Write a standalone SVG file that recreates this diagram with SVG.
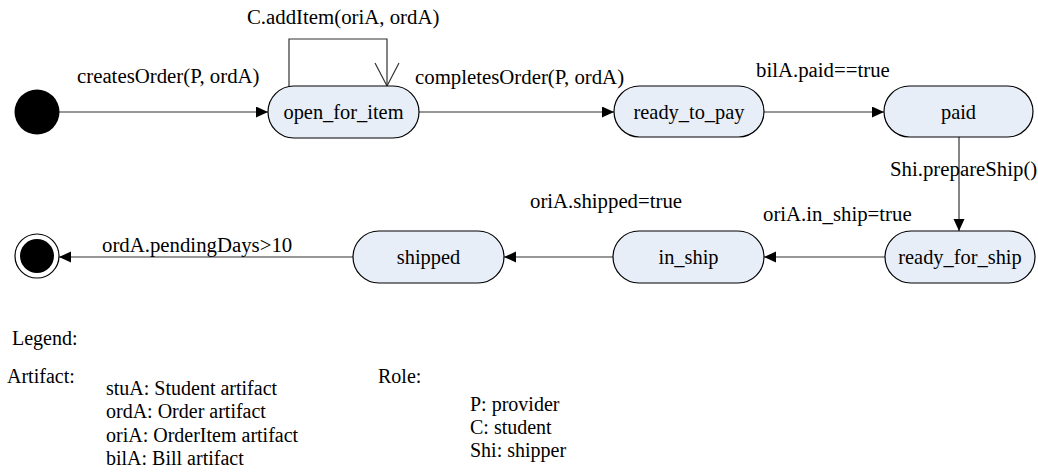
<svg xmlns="http://www.w3.org/2000/svg" width="1038" height="473" viewBox="0 0 1038 473">
<style>
text{font-family:'Liberation Serif','Times New Roman',Times,serif;font-size:20px;fill:#000}
.el{font-size:20.8px}
.st{fill:#e8eef8;stroke:#000;stroke-width:1.2}
.nt{text-anchor:middle;font-size:20.4px}
.ln{fill:none;stroke:#333;stroke-width:1.2}
</style>
<defs>
<marker id="ah" markerUnits="userSpaceOnUse" markerWidth="13" markerHeight="12" refX="12" refY="5.5" orient="auto">
<path d="M0,0 L12,5.5 L0,11 z" fill="#000"/>
</marker>
</defs>
<rect width="1038" height="473" fill="#fff"/>
<g id="connectors">
<path class="ln" d="M59 112 H268" marker-end="url(#ah)"/>
<path class="ln" d="M289 86 V39 H387 V86"/>
<path class="ln" d="M375 63 L387 86 L399 63"/>
<path class="ln" d="M419 112 H614" marker-end="url(#ah)"/>
<path class="ln" d="M764 112 H884" marker-end="url(#ah)"/>
<path class="ln" d="M959 137 V231" marker-end="url(#ah)"/>
<path class="ln" d="M885 257 H764" marker-end="url(#ah)"/>
<path class="ln" d="M613 257 H504" marker-end="url(#ah)"/>
<path class="ln" d="M353 257 H59" marker-end="url(#ah)"/>
<text class="el" x="77" y="83">createsOrder(P, ordA)</text>
<text class="el" x="247" y="24">C.addItem(oriA, ordA)</text>
<text class="el" x="415" y="84">completesOrder(P, ordA)</text>
<text class="el" x="756" y="77">bilA.paid==true</text>
<text class="el" x="890" y="176">Shi.prepareShip()</text>
<text class="el" x="530" y="208">oriA.shipped=true</text>
<text class="el" x="763" y="221">oriA.in_ship=true</text>
<text class="el" x="102" y="252">ordA.pendingDays&gt;10</text>
</g>
<g id="initial"><circle cx="37" cy="112" r="22.5" fill="#000"/></g>
<g id="open_for_item"><rect class="st" x="268" y="86" width="151" height="52" rx="26"/><text class="nt" x="343.5" y="119">open_for_item</text></g>
<g id="ready_to_pay"><rect class="st" x="614" y="86" width="150" height="51" rx="25.5"/><text class="nt" x="689" y="119">ready_to_pay</text></g>
<g id="paid"><rect class="st" x="884" y="86" width="149" height="51" rx="25.5"/><text class="nt" x="958.5" y="119">paid</text></g>
<g id="ready_for_ship"><rect class="st" x="885" y="231" width="150" height="52" rx="26"/><text class="nt" x="960" y="264">ready_for_ship</text></g>
<g id="in_ship"><rect class="st" x="613" y="231" width="151" height="52" rx="26"/><text class="nt" x="688.5" y="264">in_ship</text></g>
<g id="shipped"><rect class="st" x="353" y="231" width="151" height="52" rx="26"/><text class="nt" x="428.5" y="264">shipped</text></g>
<g id="final"><circle cx="37" cy="256" r="22" fill="#fff" stroke="#000" stroke-width="1.2"/><circle cx="37" cy="256" r="17" fill="#000"/></g>
<g id="legend">
<text x="12" y="345">Legend:</text>
<text x="7" y="383">Artifact:</text>
<text x="106" y="395">stuA: Student artifact</text>
<text x="106" y="418">ordA: Order artifact</text>
<text x="106" y="442">oriA: OrderItem artifact</text>
<text x="106" y="465">bilA: Bill artifact</text>
<text x="378" y="383">Role:</text>
<text x="470" y="411">P: provider</text>
<text x="470" y="434">C: student</text>
<text x="470" y="457">Shi: shipper</text>
</g>
</svg>
